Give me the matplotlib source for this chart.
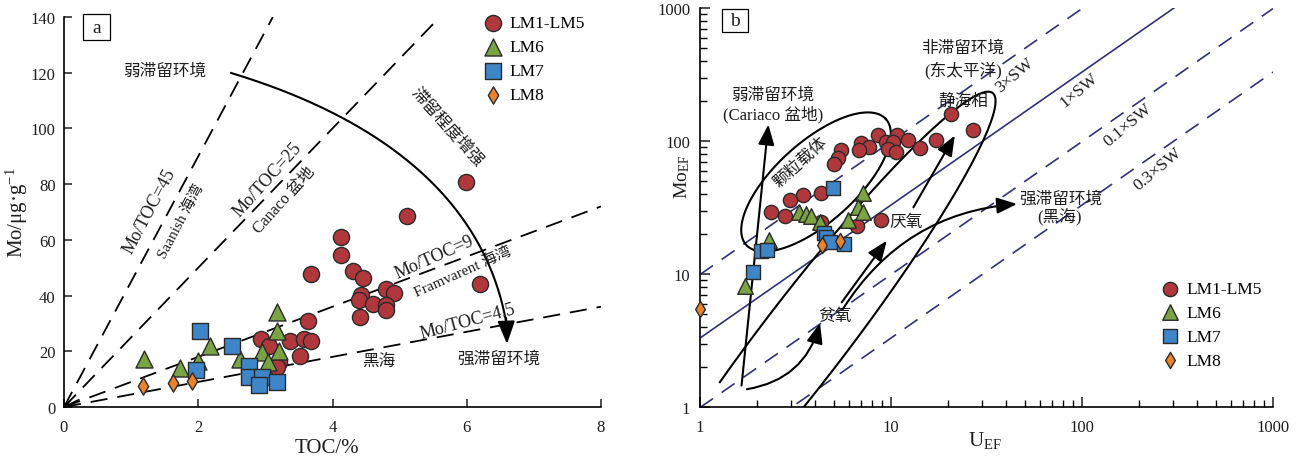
import numpy as np
import matplotlib
matplotlib.use('Agg')
import matplotlib.pyplot as plt
from matplotlib import ticker
from matplotlib.patches import FancyArrowPatch, Rectangle

plt.rcParams['font.family'] = ['Liberation Serif', 'Noto Sans CJK SC']
plt.rcParams['mathtext.fontset'] = 'custom'
plt.rcParams['mathtext.rm'] = 'Liberation Serif'
plt.rcParams['mathtext.it'] = 'Liberation Serif:italic'

# ---------------- data: panel a (TOC vs Mo) ----------------
lm15_toc = [5.99, 5.11, 4.12, 4.13, 3.68, 4.30, 4.45, 6.20, 4.79, 4.91, 4.43, 4.40, 4.60,
            4.79, 4.79, 4.41, 3.63, 2.94, 3.36, 3.57, 3.68, 3.05, 3.52, 3.21, 3.17]
lm15_mo = [80.7, 68.4, 60.9, 54.6, 47.6, 48.7, 46.4, 44.1, 42.4, 40.8, 40.2, 38.5, 36.9,
           36.7, 34.9, 32.4, 31.0, 24.4, 23.8, 24.4, 23.6, 22.0, 18.4, 16.3, 14.2]
lm6_toc = [1.19, 1.73, 2.00, 2.18, 3.17, 3.17, 2.62, 2.95, 3.21, 3.04]
lm6_mo = [17.3, 14.0, 16.6, 22.0, 34.0, 27.4, 17.2, 19.6, 20.2, 16.0]
lm7_toc = [2.02, 2.51, 1.97, 2.76, 2.76, 2.95, 2.90, 3.18]
lm7_mo = [27.4, 22.0, 13.3, 14.8, 10.7, 10.7, 7.9, 9.1]
lm8_toc = [1.17, 1.62, 1.90]
lm8_mo = [7.4, 8.6, 9.2]
mo_toc_ratios = [45, 25, 9, 4.5]

# ---------------- data: panel b (U_EF vs Mo_EF) ----------------
lm15_u = [20.5, 26.8, 8.55, 10.8, 7.0, 7.7, 6.82, 9.42, 10.2, 9.6, 10.6, 12.3, 14.2, 17.1,
          5.45, 5.28, 5.01, 4.32, 3.48, 2.96, 2.35, 2.79, 4.30, 6.66, 8.9]
lm15_moef = [159, 122, 111, 110, 96.2, 90.6, 85.5, 98.8, 97.8, 87.1, 83.2, 101.8, 88.2, 102.3,
             85.5, 74.5, 67.2, 40.9, 39.3, 36.0, 29.1, 27.2, 24.5, 23.1, 25.6]
lm6_u = [7.16, 6.72, 7.13, 5.93, 3.28, 3.59, 3.83, 4.25, 2.31, 1.71]
lm6_moef = [40.5, 31.7, 29.1, 25.5, 29.4, 28.3, 27.2, 24.5, 18.1, 8.08]
lm7_u = [4.99, 4.48, 4.57, 4.79, 5.69, 2.09, 2.23, 1.90]
lm7_moef = [44.1, 20.3, 18.9, 17.3, 16.8, 15.0, 15.2, 10.3]
lm8_u = [4.35, 5.41, 1.0]
lm8_moef = [16.6, 17.6, 5.45]
sw_ratio = 3.3
sw_factors = [3, 1, 0.3, 0.1]
sw_styles = ['dash', 'solid', 'dash', 'dash']

labels = ['LM1-LM5', 'LM6', 'LM7', 'LM8']
c_red, c_green, c_blue, c_orange = '#b0383c', '#7aa343', '#3f86c8', '#ea832c'
edge = '#2a2a2a'
navy = '#2f3178'
tc = '#1e1e1e'

W, H = 1300, 464
fig = plt.figure(figsize=(W / 100, H / 100), dpi=100)

# =============== panel a ===============
axa = fig.add_axes([64 / W, 56 / H, 537 / W, 390 / H])
axa.set_xlim(0, 8)
axa.set_ylim(0, 140)
for s in ['top', 'right']:
    axa.spines[s].set_visible(False)
for s in ['left', 'bottom']:
    axa.spines[s].set_linewidth(1.2)
axa.set_xticks([0, 2, 4, 6, 8])
axa.set_yticks(np.arange(0, 141, 20))
axa.tick_params(direction='in', length=6, width=1.1, labelsize=12, colors=tc)
axa.tick_params(axis='x', pad=9)
axa.tick_params(axis='y', pad=6)

for r in mo_toc_ratios:
    xe = min(8, 140 / r)
    axa.plot([0, xe], [0, r * xe], color='k', lw=1.3, dashes=(9.5, 5.5), zorder=2)
axa.annotate('', xy=(0, 0), xytext=(0.22, 2.6),
             arrowprops=dict(arrowstyle='->', lw=1.2, color='k', mutation_scale=10,
                             shrinkA=0, shrinkB=0))

sa = dict(edgecolors=edge, linewidths=1.0, zorder=5)
axa.scatter(lm15_toc, lm15_mo, s=135, marker='o', c=c_red, label=labels[0], **sa)
axa.scatter(lm6_toc, lm6_mo, s=150, marker='^', c=c_green, label=labels[1], **sa)
axa.scatter(lm7_toc, lm7_mo, s=120, marker='s', c=c_blue, label=labels[2], **sa)
axa.scatter(lm8_toc, lm8_mo, s=78, marker='d', c=c_orange, label=labels[3], **sa)

# curved restriction arrow (cubic bezier)
P = np.array([[2.49, 119.9], [4.26, 107.0], [6.20, 81.8], [6.587, 30.5]])
t = np.linspace(0, 1, 200)[:, None]
B = ((1 - t) ** 3) * P[0] + 3 * ((1 - t) ** 2) * t * P[1] + 3 * (1 - t) * t ** 2 * P[2] + t ** 3 * P[3]
axa.plot(B[:, 0], B[:, 1], color='k', lw=1.5, zorder=3)
axa.add_patch(FancyArrowPatch((6.586, 32.0), (6.60, 22.6), arrowstyle='-|>,head_length=1.0,head_width=0.38',
                              mutation_scale=14, color='k', lw=1.5, shrinkA=0, shrinkB=0, zorder=3))

fa = dict(color=tc, ha='center', va='center')
axa.text(1.505, 120.6, '弱滞留环境', fontsize=12, **fa)
axa.text(5.71, 100.9, '滞留程度增强', fontsize=12, rotation=-48, **fa)
axa.text(6.48, 17.2, '强滞留环境', fontsize=12, **fa)
axa.text(4.69, 16.5, '黑海', fontsize=12, **fa)
axa.text(1.267, 70.4, 'Mo/TOC=45', fontsize=13, rotation=62, **fa)
axa.text(1.744, 66.8, 'Saanish 海湾', fontsize=11, rotation=62, **fa)
axa.text(3.025, 81.8, 'Mo/TOC=25', fontsize=13, rotation=48, **fa)
axa.text(3.28, 74.3, 'Canaco 盆地', fontsize=11.5, rotation=48, **fa)
axa.text(5.51, 53.8, 'Mo/TOC=9', fontsize=13, rotation=24, **fa)
axa.text(5.95, 48.8, 'Framvarent 海湾', fontsize=11, rotation=24, **fa)
axa.text(6.01, 30.9, 'Mo/TOC=4.5', fontsize=13, rotation=15, **fa)

axa.add_patch(Rectangle((0.0354, 0.941), 0.0503, 0.0667, transform=axa.transAxes, fc='white',
                        ec='k', lw=0.9, clip_on=False, zorder=6))
axa.text(0.0605, 0.972, 'a', transform=axa.transAxes, fontsize=14, zorder=7, **fa)

axa.set_xlabel('TOC/%', fontsize=15, color=tc)
axa.xaxis.set_label_coords(0.49, -0.08)
axa.set_ylabel('Mo/μg·$\\mathrm{g}^{-1}$', fontsize=15, color=tc)
axa.yaxis.set_label_coords(-0.063, 0.5)

axa.legend(loc='upper left', bbox_to_anchor=(0.779, 1.005), frameon=False, fontsize=12.5,
           handletextpad=0.35, labelspacing=0.45, handlelength=1.2, borderpad=0,
           borderaxespad=0, scatterpoints=1)

# =============== panel b ===============
axb = fig.add_axes([700 / W, 56 / H, 573 / W, 399 / H])
axb.set_xscale('log')
axb.set_yscale('log')
axb.set_xlim(1, 1000)
axb.set_ylim(1, 1000)
for s in ['top', 'right']:
    axb.spines[s].set_visible(False)
for s in ['left', 'bottom']:
    axb.spines[s].set_linewidth(1.2)
fmt = ticker.FuncFormatter(lambda v, p: f'{v:g}')
for axis in (axb.xaxis, axb.yaxis):
    axis.set_major_locator(ticker.LogLocator(base=10, numticks=10))
    axis.set_minor_locator(ticker.LogLocator(base=10, subs=np.arange(2, 10), numticks=20))
    axis.set_major_formatter(fmt)
    axis.set_minor_formatter(ticker.NullFormatter())
axb.tick_params(which='major', direction='in', length=7, width=1.1, labelsize=12, colors=tc)
axb.tick_params(which='minor', direction='in', length=5, width=1.0)
axb.tick_params(axis='x', which='major', pad=9)
axb.tick_params(axis='y', which='major', pad=7)

uu = np.array([1, 1000.0])
for f, st in zip(sw_factors, sw_styles):
    if st == 'solid':
        axb.plot(uu, sw_ratio * f * uu, color=navy, lw=1.2, zorder=2)
    else:
        axb.plot(uu, sw_ratio * f * uu, color=navy, lw=1.2, dashes=(9.5, 6.3), zorder=2)

# pixel size of a decade in this axes
ppd_x = 573 / 3.0
ppd_y = 399 / 3.0


def ellipse(cu, cm, a, b, ang, t0, t1):
    tt = np.linspace(t0, t1, 400)
    th = np.deg2rad(ang)
    dx = a * np.cos(tt) * np.cos(th) - b * np.sin(tt) * np.sin(th)
    dy = a * np.cos(tt) * np.sin(th) + b * np.sin(tt) * np.cos(th)
    return cu * 10 ** (dx / ppd_x), cm * 10 ** (dy / ppd_y)


ex, ey = ellipse(4.05, 49.2, 94, 40, 42, 0, 2 * np.pi)
axb.plot(ex, ey, color='k', lw=1.5, zorder=3)
ex, ey = ellipse(3.50, 3.25, 310, 42, 52.5, 1.85, -2.7)
axb.plot(ex, ey, color='k', lw=1.5, zorder=3)

ak = dict(arrowstyle='-|>,head_length=0.95,head_width=0.38', mutation_scale=13, color='k',
          lw=1.5, shrinkA=0, shrinkB=0, zorder=4)
axb.add_patch(FancyArrowPatch((1.65, 1.45), (2.28, 133), **ak))
axb.add_patch(FancyArrowPatch((1.76, 1.36), (4.25, 4.28), connectionstyle='arc3,rad=0.32', **ak))
axb.add_patch(FancyArrowPatch((5.52, 6.12), (9.5, 17.8), **ak))
axb.add_patch(FancyArrowPatch((5.6, 5.45), (45.7, 33.6), connectionstyle='arc3,rad=-0.25', **ak))
axb.add_patch(FancyArrowPatch((13.1, 31.7), (21.6, 110), **ak))

sb = dict(edgecolors=edge, linewidths=1.0, zorder=5, clip_on=False)
axb.scatter(lm15_u, lm15_moef, s=105, marker='o', c=c_red, label=labels[0], **sb)
axb.scatter(lm6_u, lm6_moef, s=125, marker='^', c=c_green, label=labels[1], **sb)
axb.scatter(lm7_u, lm7_moef, s=95, marker='s', c=c_blue, label=labels[2], **sb)
axb.scatter(lm8_u, lm8_moef, s=68, marker='d', c=c_orange, label=labels[3], **sb)

axb.text(2.41, 222, '弱滞留环境', fontsize=12, **fa)
axb.text(2.41, 160, '(Cariaco 盆地)', fontsize=12, **fa)
axb.text(3.38, 69.5, '颗粒载体', fontsize=12, rotation=42, **fa)
axb.text(23.8, 500, '非滞留环境', fontsize=12, **fa)
axb.text(23.8, 348, '(东太平洋)', fontsize=12, **fa)
axb.text(23.8, 200, '静海相', fontsize=12, **fa)
axb.text(44.6, 313, '3×SW', fontsize=12.5, rotation=40, **fa)
axb.text(96.5, 242, '1×SW', fontsize=12.5, rotation=40, **fa)
axb.text(174, 134, '0.1×SW', fontsize=12.5, rotation=40, **fa)
axb.text(250, 61.6, '0.3×SW', fontsize=12.5, rotation=40, **fa)
axb.text(77.6, 36.6, '强滞留环境', fontsize=12, **fa)
axb.text(76.7, 27.3, '(黑海)', fontsize=12, **fa)
axb.text(12.0, 24.6, '厌氧', fontsize=12, **fa)
axb.text(5.09, 4.83, '贫氧', fontsize=12, **fa)

axb.add_patch(Rectangle((0.0384, 0.940), 0.0454, 0.0576, transform=axb.transAxes, fc='white',
                        ec='k', lw=0.9, clip_on=False, zorder=6))
axb.text(0.0611, 0.968, 'b', transform=axb.transAxes, fontsize=14, zorder=7, **fa)

axb.set_xlabel('U$_{\\mathrm{EF}}$', fontsize=15, color=tc)
axb.xaxis.set_label_coords(0.497, -0.055)
axb.set_ylabel('Mo$_{\\mathrm{EF}}$', fontsize=14, color=tc)
axb.yaxis.set_label_coords(-0.014, 0.58)

axb.legend(loc='upper left', bbox_to_anchor=(0.802, 0.316), frameon=False, fontsize=12.5,
           handletextpad=0.35, labelspacing=0.45, handlelength=1.2, borderpad=0,
           borderaxespad=0, scatterpoints=1)

fig.savefig('out.png', dpi=100)
